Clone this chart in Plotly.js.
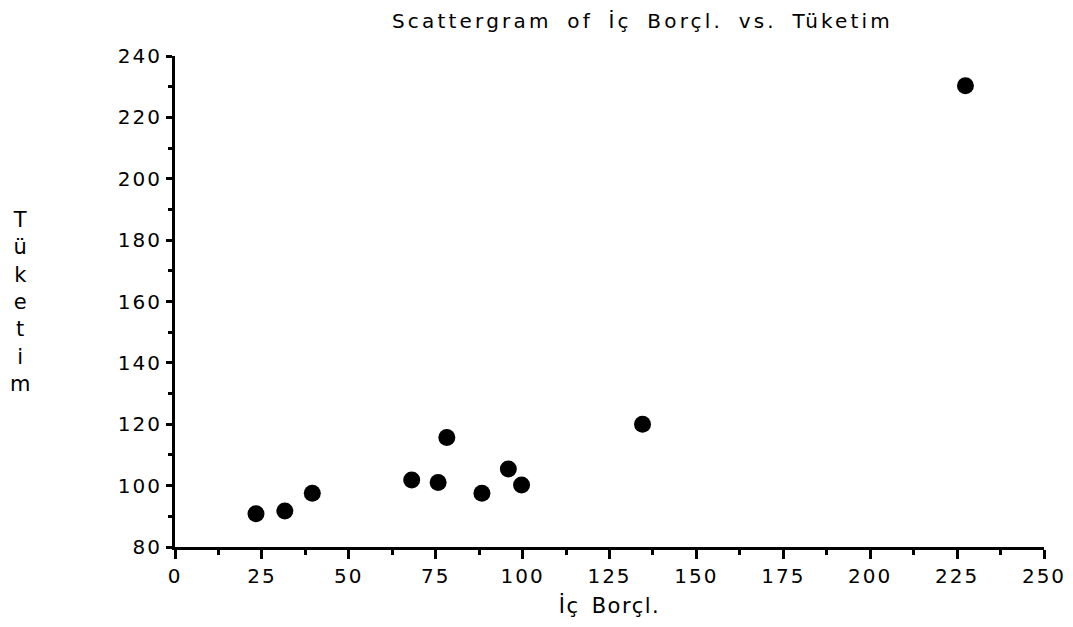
<!DOCTYPE html>
<html>
<head>
<meta charset="utf-8">
<script src="https://cdn.plot.ly/plotly-3.0.1.min.js"></script>
<style>
  html, body { margin: 0; padding: 0; background: #fff; }
  #chart { width: 1073px; height: 627px; }
  .xtick text, .ytick text { letter-spacing: 2px; }
  .gtitle { letter-spacing: 3.2px; word-spacing: 6px; }
  .g-xtitle text { letter-spacing: 1.5px; word-spacing: 4px; }
</style>
</head>
<body>
<div id="chart"></div>
<script>
// Data
const icBorcl = [23.3, 31.6, 39.5, 68.1, 75.7, 78.2, 88.3, 95.9, 99.7, 134.5, 227.4];
const tuketim = [90.8, 91.7, 97.5, 101.8, 101.0, 115.7, 97.5, 105.4, 100.2, 120.0, 230.3];

const xTickVals = [0, 25, 50, 75, 100, 125, 150, 175, 200, 225, 250];
const xTickText = ["0", "25", "50", "75", "100", "125", "150", "175", "200", "225", "250"];
const yTickVals = [80, 100, 120, 140, 160, 180, 200, 220, 240];
const yTickText = ["80", "100", "120", "140", "160", "180", "200", "220", "240"];

const titleText = "Scattergram of İç Borçl. vs. Tüketim";
const xTitle = "İç Borçl.";
const yTitleLetters = ["T", "ü", "k", "e", "t", "i", "m"];

const font = "DejaVu Sans, Liberation Sans, Arial, sans-serif";

const trace = {
  x: icBorcl,
  y: tuketim,
  type: "scatter",
  mode: "markers",
  marker: { color: "#000", size: 17, symbol: "circle" },
  hoverinfo: "x+y"
};

const layout = {
  width: 1073,
  height: 627,
  paper_bgcolor: "#fff",
  plot_bgcolor: "#fff",
  showlegend: false,
  margin: { l: 175, r: 29, t: 56, b: 80 },
  font: { family: font, color: "#000" },
  title: {
    text: titleText,
    font: { family: font, size: 20, color: "#000" },
    x: 0.538, xref: "paper", xanchor: "center",
    y: 0.966, yref: "container", yanchor: "middle"
  },
  xaxis: {
    range: [0, 250],
    tickvals: xTickVals,
    ticktext: xTickText,
    ticks: "outside",
    ticklen: 9,
    tickwidth: 3,
    tickcolor: "#000",
    showline: true,
    linecolor: "#000",
    linewidth: 3,
    showgrid: false,
    zeroline: false,
    tickfont: { family: font, size: 20, color: "#000" },
    minor: { dtick: 12.5, tick0: 0, ticks: "outside", ticklen: 5, tickwidth: 3, tickcolor: "#000", showgrid: false },
    title: { text: xTitle, font: { family: font, size: 21, color: "#000" }, standoff: 12 },
    fixedrange: true
  },
  yaxis: {
    range: [80, 240],
    tickvals: yTickVals,
    ticktext: yTickText,
    ticks: "outside",
    ticklen: 6,
    tickwidth: 3,
    tickcolor: "#000",
    showline: true,
    linecolor: "#000",
    linewidth: 3,
    showgrid: false,
    zeroline: false,
    tickfont: { family: font, size: 20, color: "#000" },
    minor: { dtick: 10, tick0: 80, ticks: "outside", ticklen: 4, tickwidth: 3, tickcolor: "#000", showgrid: false },
    title: { text: "" },
    fixedrange: true
  },
  annotations: [{
    text: yTitleLetters.join("<br>"),
    xref: "paper", yref: "paper",
    x: -0.178, y: 0.5,
    xanchor: "center", yanchor: "middle",
    showarrow: false,
    align: "center",
    font: { family: font, size: 21, color: "#000" }
  }]
};

Plotly.newPlot("chart", [trace], layout, { displayModeBar: false });
</script>
</body>
</html>
